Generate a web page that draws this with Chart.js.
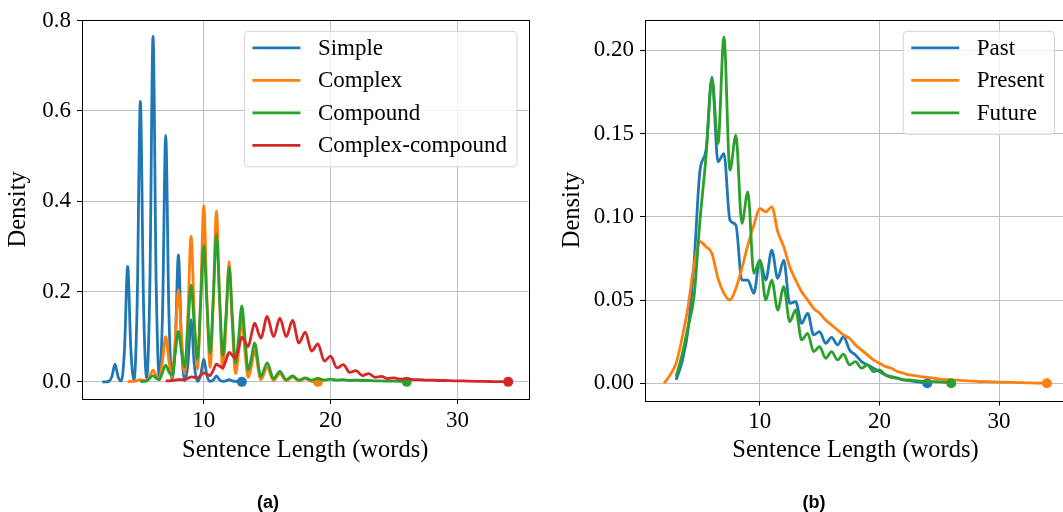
<!DOCTYPE html>
<html>
<head>
<meta charset="utf-8">
<script src="https://cdn.jsdelivr.net/npm/chart.js@4.4.1/dist/chart.umd.min.js"></script>
<style>
  html, body { margin: 0; padding: 0; background: #fff; }
  body { width: 1063px; height: 512px; overflow: hidden; position: relative; }
  #chartA { position: absolute; left: 0; top: 0; }
  #chartB { position: absolute; left: 555px; top: 0; }
</style>
</head>
<body>
<canvas id="chartA" width="540" height="512"></canvas>
<canvas id="chartB" width="525" height="512"></canvas>
<script>
// (a) sentence types - quarter steps up to 14, half steps after
const lengthsA = [
    2, 2.25, 2.5, 2.75, 3, 3.25, 3.5, 3.75, 4, 4.25, 4.5, 4.75,
    5, 5.25, 5.5, 5.75, 6, 6.25, 6.5, 6.75, 7, 7.25, 7.5, 7.75,
    8, 8.25, 8.5, 8.75, 9, 9.25, 9.5, 9.75, 10, 10.25, 10.5, 10.75,
    11, 11.25, 11.5, 11.75, 12, 12.25, 12.5, 12.75, 13, 13.25, 13.5, 13.75,
    14, 14.5, 15, 15.5, 16, 16.5, 17, 17.5, 18, 18.5, 19, 19.5,
    20, 20.5, 21, 21.5, 22, 22.5, 23, 23.5, 24, 24.5, 25, 25.5,
    26, 26.5, 27, 27.5, 28, 28.5, 29, 29.5, 30, 30.5, 31, 31.5,
    32, 32.5, 33, 33.5, 34
];
const simple = [
    0, 0, 0.001, 0.011, 0.039, 0.011, 0.002, 0.072, 0.256, 0.072, 0.004, 0.174,
    0.621, 0.174, 0.008, 0.214, 0.765, 0.214, 0.008, 0.153, 0.546, 0.153, 0.005, 0.079,
    0.281, 0.079, 0.003, 0.039, 0.138, 0.039, 0.001, 0.014, 0.050, 0.014, 0.001, 0.004,
    0.013, 0.004, 0.001, 0.002, 0.005, 0.002, 0.001, 0.001, 0, null, null, null,
    null, null, null, null, null, null, null, null, null, null, null, null,
    null, null, null, null, null, null, null, null, null, null, null, null,
    null, null, null, null, null, null, null, null, null, null, null, null,
    null, null, null, null, null
];
const complex = [
    null, null, null, null, null, null, null, null, 0, 0.001, 0.001, 0.003,
    0.005, 0.003, 0.002, 0.013, 0.026, 0.013, 0.005, 0.047, 0.100, 0.048, 0.010, 0.096,
    0.204, 0.098, 0.018, 0.150, 0.322, 0.152, 0.028, 0.182, 0.390, 0.182, 0.032, 0.177,
    0.378, 0.176, 0.028, 0.125, 0.267, 0.125, 0.018, 0.066, 0.140, 0.066, 0.010, 0.033,
    0.068, 0.005, 0.032, 0.003, 0.018, 0.002, 0.011, 0.002, 0.007, 0.001, 0, null,
    null, null, null, null, null, null, null, null, null, null, null, null,
    null, null, null, null, null, null, null, null, null, null, null, null,
    null, null, null, null, null
];
const compound = [
    null, null, null, null, null, null, null, null, null, null, null, null,
    0, 0.001, 0.002, 0.008, 0.014, 0.008, 0.005, 0.021, 0.037, 0.022, 0.015, 0.064,
    0.112, 0.066, 0.033, 0.122, 0.214, 0.125, 0.050, 0.172, 0.302, 0.172, 0.063, 0.186,
    0.327, 0.185, 0.058, 0.146, 0.253, 0.145, 0.042, 0.098, 0.168, 0.096, 0.025, 0.052,
    0.086, 0.012, 0.042, 0.007, 0.023, 0.005, 0.013, 0.004, 0.009, 0.004, 0.007, 0.004,
    0.006, 0.004, 0.005, 0.003, 0.004, 0.003, 0.003, 0.002, 0.002, 0.0015, 0.0015, 0.001,
    0, null, null, null, null, null, null, null, null, null, null, null,
    null, null, null, null, null
];
const complexCompound = [
    null, null, null, null, null, null, null, null, null, null, null, null,
    null, null, null, null, null, null, null, null, 0.002, 0.002, 0.003, 0.004,
    0.005, 0.005, 0.005, 0.008, 0.011, 0.010, 0.009, 0.014, 0.020, 0.017, 0.014, 0.026,
    0.039, 0.035, 0.031, 0.048, 0.065, 0.059, 0.052, 0.075, 0.099, 0.089, 0.078, 0.104,
    0.130, 0.097, 0.145, 0.100, 0.141, 0.100, 0.136, 0.086, 0.110, 0.068, 0.084, 0.046,
    0.057, 0.031, 0.038, 0.021, 0.025, 0.014, 0.018, 0.010, 0.012, 0.007, 0.009, 0.006,
    0.007, 0.005, 0.005, 0.004, 0.004, 0.003, 0.003, 0.0025, 0.002, 0.002, 0.0015, 0.0012,
    0.001, 0.0008, 0.0005, 0.0003, 0
];

// (b) tenses - half steps
const lengthsB = [
    2, 2.5, 3, 3.5, 4, 4.5, 5, 5.5, 6, 6.5,
    7, 7.5, 8, 8.5, 9, 9.5, 10, 10.5, 11, 11.5,
    12, 12.5, 13, 13.5, 14, 14.5, 15, 15.5, 16, 16.5,
    17, 17.5, 18, 18.5, 19, 19.5, 20, 20.5, 21, 21.5,
    22, 22.5, 23, 23.5, 24, 24.5, 25, 25.5, 26, 26.5,
    27, 27.5, 28, 28.5, 29, 29.5, 30, 30.5, 31, 31.5,
    32, 32.5, 33, 33.5, 34
];
const past = [
    null, null, 0.002, 0.013, 0.032, 0.072, 0.128, 0.140, 0.184, 0.133,
    0.138, 0.098, 0.095, 0.062, 0.062, 0.054, 0.074, 0.062, 0.080, 0.063,
    0.074, 0.048, 0.049, 0.036, 0.042, 0.029, 0.031, 0.024, 0.0275, 0.023,
    0.028, 0.020, 0.017, 0.013, 0.011, 0.009, 0.007, 0.005, 0.0035, 0.003,
    0.002, 0.0016, 0.001, 0.0005, 0, null, null, null, null, null,
    null, null, null, null, null, null, null, null, null, null,
    null, null, null, null, null
];
const present = [
    0, 0.005, 0.012, 0.027, 0.046, 0.071, 0.085, 0.082, 0.078, 0.063,
    0.054, 0.050, 0.057, 0.069, 0.083, 0.095, 0.105, 0.103, 0.106, 0.091,
    0.082, 0.070, 0.062, 0.055, 0.050, 0.045, 0.042, 0.038, 0.035, 0.032,
    0.029, 0.027, 0.023, 0.020, 0.017, 0.014, 0.012, 0.010, 0.009, 0.007,
    0.006, 0.005, 0.0045, 0.004, 0.0035, 0.003, 0.0025, 0.0022, 0.002, 0.0018,
    0.0016, 0.0014, 0.0012, 0.001, 0.0009, 0.0008, 0.0007, 0.0006, 0.0005, 0.0004,
    0.0003, 0.0002, 0.0001, 0.0001, 0
];
const future = [
    null, null, 0.004, 0.017, 0.034, 0.052, 0.098, 0.136, 0.183, 0.144,
    0.208, 0.128, 0.149, 0.096, 0.115, 0.066, 0.074, 0.050, 0.062, 0.044,
    0.058, 0.037, 0.044, 0.026, 0.030, 0.019, 0.022, 0.015, 0.019, 0.014,
    0.0175, 0.011, 0.013, 0.009, 0.011, 0.007, 0.008, 0.005, 0.004, 0.003,
    0.002, 0.002, 0.0015, 0.0012, 0.001, 0.001, 0.0008, 0.0005, 0, null,
    null, null, null, null, null, null, null, null, null, null,
    null, null, null, null, null
];

const yTicksA = [0, 0.2, 0.4, 0.6, 0.8];
const yTicksB = [0, 0.05, 0.1, 0.15, 0.2];
const xTicks = [10, 20, 30];

const serif = "'Liberation Serif', 'Times New Roman', serif";
const gridColor = '#bfbfbf';
const colors = ['#1f77b4', '#ff7f0e', '#2ca02c', '#d62728'];

function toPoints(xs, ys) {
    return xs.map((x, i) => ({ x: x, y: ys[i] })).filter(p => p.y !== null);
}

function makeDataset(label, xs, ys, i, total) {
    return {
        label: label,
        data: toPoints(xs, ys),
        borderColor: colors[i],
        backgroundColor: colors[i],
        borderWidth: 2.8,
        cubicInterpolationMode: 'monotone',
        fill: false,
        // end of each curve gets a dot
        pointRadius: (ctx) => ctx.dataIndex === ctx.dataset.data.length - 1 ? 5 : 0,
        pointBackgroundColor: colors[i],
        pointBorderWidth: 0,
        pointHoverRadius: 0,
        order: total - i
    };
}

// box round plot, legend in upper right, caption under the plot
const decorPlugin = {
    id: 'decor',
    afterDraw(chart, args, opts) {
        const { ctx, chartArea: a } = chart;
        ctx.save();

        ctx.strokeStyle = '#000';
        ctx.lineWidth = 1;
        ctx.strokeRect(Math.round(a.left) + 0.5, Math.round(a.top) + 0.5,
            Math.round(a.right - a.left), Math.round(a.bottom - a.top));

        const sets = chart.data.datasets;
        ctx.font = opts.legendSize + 'px ' + serif;
        const textW = Math.max(...sets.map(d => ctx.measureText(d.label).width));
        const pad = 8, lineLen = 48, gap = 17.5;
        const w = pad + lineLen + gap + textW + 10;
        const x1 = a.right - 11.5;
        const x0 = x1 - w;
        const y0 = a.top + 11.5;
        const h = 16.5 + (sets.length - 1) * 32.5 + 21.5;

        ctx.beginPath();
        ctx.roundRect(x0, y0, w, h, 4);
        ctx.fillStyle = 'rgba(255,255,255,0.8)';
        ctx.fill();
        ctx.strokeStyle = '#d4d4d4';
        ctx.stroke();

        sets.forEach((d, i) => {
            const y = y0 + 16.5 + i * 32.5;
            ctx.beginPath();
            ctx.moveTo(x0 + pad, y);
            ctx.lineTo(x0 + pad + lineLen, y);
            ctx.strokeStyle = d.borderColor;
            ctx.lineWidth = 2.8;
            ctx.stroke();
            ctx.fillStyle = '#000';
            ctx.textAlign = 'left';
            ctx.textBaseline = 'middle';
            ctx.fillText(d.label, x0 + pad + lineLen + gap, y + 1);
        });

        ctx.font = 'bold 18px "Liberation Sans", Arial, sans-serif';
        ctx.textAlign = 'center';
        ctx.textBaseline = 'middle';
        ctx.fillStyle = '#000';
        ctx.fillText(opts.caption, opts.captionX, 503);
        ctx.restore();
    }
};

function makeOptions(o) {
    return {
        responsive: false,
        animation: false,
        events: [],
        layout: { padding: { left: 0, top: o.top, right: o.right, bottom: 0 } },
        plugins: {
            legend: { display: false },
            tooltip: { enabled: false },
            decor: { caption: o.caption, captionX: o.captionX, legendSize: 23 }
        },
        scales: {
            x: {
                type: 'linear',
                min: 0.4,
                max: 35.6,
                afterFit: (s) => { s.height = o.xHeight; },
                afterBuildTicks: (s) => { s.ticks = xTicks.map(v => ({ value: v })); },
                border: { display: false },
                grid: { color: gridColor, lineWidth: 1, tickColor: '#000', tickLength: 5, tickWidth: 1 },
                ticks: {
                    color: '#000',
                    maxRotation: 0,
                    padding: 3,
                    font: { family: serif, size: 23 }
                },
                title: {
                    display: true,
                    text: 'Sentence Length (words)',
                    color: '#000',
                    font: { family: serif, size: 24.5 },
                    padding: { top: 0, bottom: 47 }
                }
            },
            y: {
                min: o.yMin,
                max: o.yMax,
                afterFit: (s) => { s.width = o.yWidth; },
                afterBuildTicks: (s) => { s.ticks = o.yTicks.map(v => ({ value: v })); },
                border: { display: false },
                grid: { color: gridColor, lineWidth: 1, tickColor: '#000', tickLength: 5, tickWidth: 1 },
                ticks: {
                    color: '#000',
                    padding: 6,
                    font: { family: serif, size: 23 },
                    callback: function(value) {
                        return value.toFixed(o.decimals);
                    }
                },
                title: {
                    display: true,
                    text: 'Density',
                    color: '#000',
                    font: { family: serif, size: 24.5 },
                    padding: { top: o.yTitlePad, bottom: 0 }
                }
            }
        }
    };
}

new Chart(document.getElementById('chartA').getContext('2d'), {
    type: 'line',
    data: {
        datasets: [
            makeDataset('Simple', lengthsA, simple, 0, 4),
            makeDataset('Complex', lengthsA, complex, 1, 4),
            makeDataset('Compound', lengthsA, compound, 2, 4),
            makeDataset('Complex-compound', lengthsA, complexCompound, 3, 4)
        ]
    },
    plugins: [decorPlugin],
    options: makeOptions({
        top: 17, right: 11.5, xHeight: 113, yWidth: 82,
        yMin: -0.038, yMax: 0.802, yTicks: yTicksA, decimals: 1,
        yTitlePad: 4, caption: '(a)', captionX: 268
    })
});

new Chart(document.getElementById('chartB').getContext('2d'), {
    type: 'line',
    data: {
        datasets: [
            makeDataset('Past', lengthsB, past, 0, 3),
            makeDataset('Present', lengthsB, present, 1, 3),
            makeDataset('Future', lengthsB, future, 2, 3)
        ]
    },
    plugins: [decorPlugin],
    options: makeOptions({
        top: 18, right: 14, xHeight: 111.5, yWidth: 90,
        yMin: -0.0104, yMax: 0.2184, yTicks: yTicksB, decimals: 2,
        yTitlePad: 3, caption: '(b)', captionX: 259
    })
});
</script>
</body>
</html>
